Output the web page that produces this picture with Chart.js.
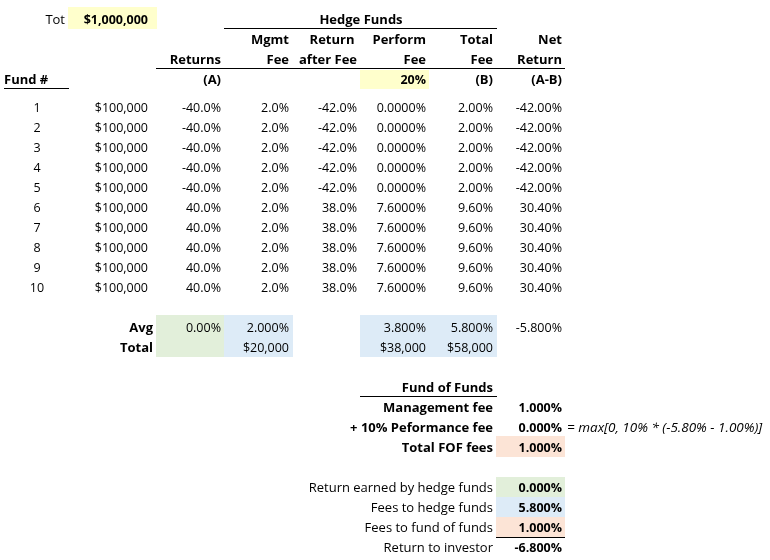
<!DOCTYPE html>
<html>
<head>
<meta charset="utf-8">
<script src="https://cdn.jsdelivr.net/npm/chart.js@4.4.0/dist/chart.umd.min.js"></script>
<style>
  body { margin: 0; background: #fff; }
  #tabla { display: block; }
</style>
</head>
<body>
<canvas id="tabla" width="770" height="560"></canvas>
<script>
// ------------- Datos de la hoja -------------

const totalInvertido = '$1,000,000';
const feeDesempenoPct = '20%';

const fondos = [1, 2, 3, 4, 5, 6, 7, 8, 9, 10];
const montos = ['$100,000', '$100,000', '$100,000', '$100,000', '$100,000',
  '$100,000', '$100,000', '$100,000', '$100,000', '$100,000'];
const retornos = [-40.0, -40.0, -40.0, -40.0, -40.0, 40.0, 40.0, 40.0, 40.0, 40.0];
const feeGestion = [2.0, 2.0, 2.0, 2.0, 2.0, 2.0, 2.0, 2.0, 2.0, 2.0];
const retornoTrasFee = [-42.0, -42.0, -42.0, -42.0, -42.0, 38.0, 38.0, 38.0, 38.0, 38.0];
const feeDesempeno = [0.0, 0.0, 0.0, 0.0, 0.0, 7.6, 7.6, 7.6, 7.6, 7.6];
const feeTotal = [2.0, 2.0, 2.0, 2.0, 2.0, 9.6, 9.6, 9.6, 9.6, 9.6];
const retornoNeto = [-42.0, -42.0, -42.0, -42.0, -42.0, 30.4, 30.4, 30.4, 30.4, 30.4];

// Fila promedio y total
const promedios = ['0.00%', '2.000%', '3.800%', '5.800%', '-5.800%'];
const totales = ['$20,000', '$38,000', '$58,000'];

// Fondo de fondos
const fofEtiquetas = ['Management fee', '+ 10% Peformance fee', 'Total FOF fees'];
const fofValores = ['1.000%', '0.000%', '1.000%'];
const fofFormula = '= max[0, 10% * (-5.80% - 1.00%)]';

// Resumen para el inversor
const resumenEtiquetas = ['Return earned by hedge funds', 'Fees to hedge funds', 'Fees to fund of funds', 'Return to investor'];
const resumenValores = ['0.000%', '5.800%', '1.000%', '-6.800%'];

// ------------- Colores y layout -------------
const amarillo = '#ffffcc';
const verde = '#e2efda';
const azul = '#ddebf7';
const salmon = '#fce4d6';

// borde derecho del texto de cada columna (en unidades de la escala x)
const bordeCol = [148, 221, 289, 357, 426, 493, 562];
// limites de las celdas (fin de cada columna)
const limiteCol = [157, 224, 293, 360, 429, 497, 565];
// centro de cada fila de fondo
const filaFondo = fondos.map((f, i) => 107 + 20 * i);

const fuente = '"Open Sans", "Liberation Sans", sans-serif';
const tamNum = 12.5;   // numeros
const tamTxt = 13;     // etiquetas

// ------------- Plugin que dibuja la hoja -------------
const hojaPlugin = {
  id: 'hoja',
  afterDraw(chart) {
    const ctx = chart.ctx;
    const sx = chart.scales.x;
    const sy = chart.scales.y;
    const px = v => sx.getPixelForValue(v);
    const py = v => sy.getPixelForValue(v);

    // rectangulo de color
    function caja(x0, y0, x1, y1, color) {
      ctx.fillStyle = color;
      ctx.fillRect(px(x0), py(y0), px(x1) - px(x0), py(y1) - py(y0));
    }

    // linea horizontal
    function linea(x0, x1, yy) {
      ctx.strokeStyle = '#000';
      ctx.lineWidth = 1;
      ctx.beginPath();
      ctx.moveTo(px(x0), Math.round(py(yy)) + 0.5);
      ctx.lineTo(px(x1), Math.round(py(yy)) + 0.5);
      ctx.stroke();
    }

    // texto (numero por defecto)
    function txt(t, xx, yy, alin, estilo, tam) {
      ctx.fillStyle = '#000';
      ctx.font = (estilo || '') + ' ' + (tam || tamNum) + 'px ' + fuente;
      ctx.textAlign = alin || 'right';
      ctx.textBaseline = 'middle';
      ctx.fillText(t, px(xx), py(yy) + 1);
    }
    // etiqueta
    function etq(t, xx, yy, alin, estilo) {
      txt(t, xx, yy, alin, estilo, tamTxt);
    }

    ctx.save();

    // --------- Fondos de color ---------
    caja(68, 7, 157, 29, amarillo);
    caja(limiteCol[3], 70, limiteCol[4], 89, amarillo);
    caja(limiteCol[0] - 1, 315, limiteCol[1], 357, verde);
    caja(limiteCol[1], 315, limiteCol[2], 357, azul);
    caja(limiteCol[3], 315, limiteCol[5], 357, azul);
    caja(limiteCol[5] - 1, 436, limiteCol[6], 457, salmon);
    caja(limiteCol[5] - 1, 477, limiteCol[6], 497, verde);
    caja(limiteCol[5] - 1, 497, limiteCol[6], 517, azul);
    caja(limiteCol[5] - 1, 517, limiteCol[6], 537, salmon);

    // --------- Lineas ---------
    linea(224, 497, 28);
    linea(156, 565, 68);
    linea(4, 69, 88);
    linea(360, 497, 396);
    linea(496, 565, 537);

    // --------- Encabezados ---------
    etq('Tot', 65, 19);
    txt(totalInvertido, 148, 19, 'right', 'bold');
    etq('Hedge Funds', 361, 19, 'center', 'bold');

    etq('Mgmt', bordeCol[2], 39, 'right', 'bold');
    etq('Return', 332, 39, 'center', 'bold');
    etq('Perform', bordeCol[4], 39, 'right', 'bold');
    etq('Total', bordeCol[5], 39, 'right', 'bold');
    etq('Net', bordeCol[6], 39, 'right', 'bold');

    etq('Returns', bordeCol[1], 59, 'right', 'bold');
    etq('Fee', bordeCol[2], 59, 'right', 'bold');
    etq('after Fee', bordeCol[3], 59, 'right', 'bold');
    etq('Fee', bordeCol[4], 59, 'right', 'bold');
    etq('Fee', bordeCol[5], 59, 'right', 'bold');
    etq('Return', bordeCol[6], 59, 'right', 'bold');

    etq('Fund #', 4, 79, 'left', 'bold');
    etq('(A)', bordeCol[1], 79, 'right', 'bold');
    txt(feeDesempenoPct, bordeCol[4], 79, 'right', 'bold');
    etq('(B)', bordeCol[5], 79, 'right', 'bold');
    etq('(A-B)', bordeCol[6], 79, 'right', 'bold');

    // --------- Filas de fondos ---------
    fondos.forEach((f, i) => {
      const yy = filaFondo[i];
      txt(String(f), 37, yy, 'center');
      txt(montos[i], bordeCol[0], yy);
      txt(retornos[i].toFixed(1) + '%', bordeCol[1], yy);
      txt(feeGestion[i].toFixed(1) + '%', bordeCol[2], yy);
      txt(retornoTrasFee[i].toFixed(1) + '%', bordeCol[3], yy);
      txt(feeDesempeno[i].toFixed(4) + '%', bordeCol[4], yy);
      txt(feeTotal[i].toFixed(2) + '%', bordeCol[5], yy);
      txt(retornoNeto[i].toFixed(2) + '%', bordeCol[6], yy);
    });

    // --------- Promedio y total ---------
    etq('Avg', 153, 327, 'right', 'bold');
    txt(promedios[0], bordeCol[1], 327);
    txt(promedios[1], bordeCol[2], 327);
    txt(promedios[2], bordeCol[4], 327);
    txt(promedios[3], bordeCol[5], 327);
    txt(promedios[4], bordeCol[6], 327);

    etq('Total', 153, 347, 'right', 'bold');
    txt(totales[0], bordeCol[2], 347);
    txt(totales[1], bordeCol[4], 347);
    txt(totales[2], bordeCol[5], 347);

    // --------- Fondo de fondos ---------
    etq('Fund of Funds', bordeCol[5], 387, 'right', 'bold');
    fofEtiquetas.forEach((e, i) => {
      etq(e, bordeCol[5], 407 + 20 * i, 'right', 'bold');
      txt(fofValores[i], bordeCol[6], 407 + 20 * i, 'right', 'bold');
    });
    txt(fofFormula, 567, 427, 'left', 'italic', 13.5);

    // --------- Resumen ---------
    resumenEtiquetas.forEach((e, i) => {
      etq(e, bordeCol[5], 487 + 20 * i, 'right');
      txt(resumenValores[i], bordeCol[6], 487 + 20 * i, 'right', 'bold');
    });

    ctx.restore();
  }
};

// ------------- Crear el "grafico" -------------
const hoja = new Chart(document.getElementById('tabla'), {
  type: 'scatter',
  data: { datasets: [{ data: [] }] },
  options: {
    responsive: false,
    animation: false,
    events: [],
    layout: { padding: 0 },
    plugins: { legend: { display: false }, tooltip: { enabled: false } },
    scales: {
      x: { type: 'linear', min: 0, max: 770, display: false },
      y: { type: 'linear', min: 0, max: 560, reverse: true, display: false }
    }
  },
  plugins: [hojaPlugin]
});
</script>
</body>
</html>
